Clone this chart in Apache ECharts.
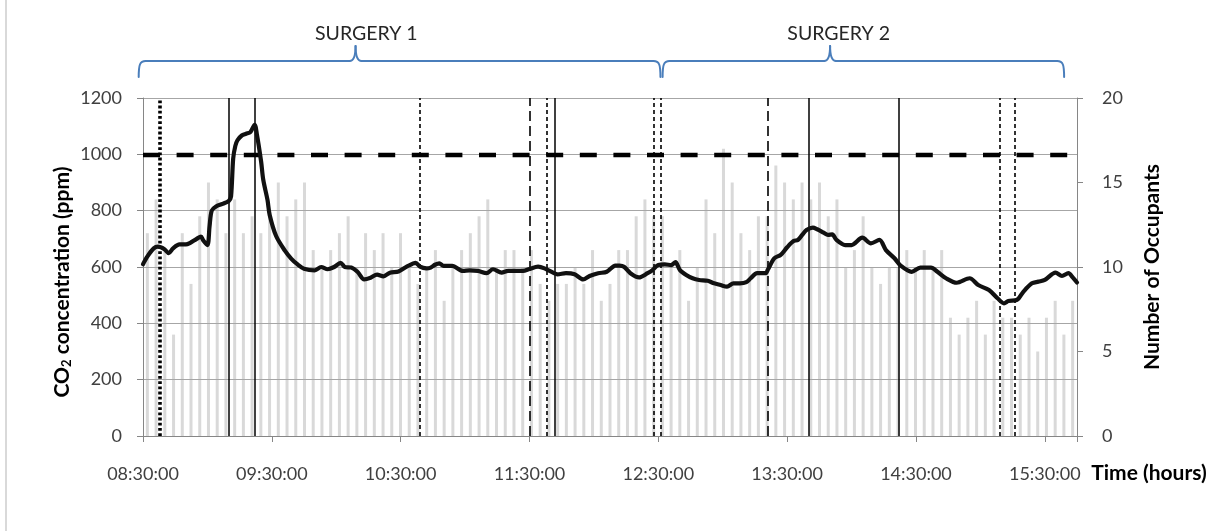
<!DOCTYPE html>
<html>
<head>
<meta charset="utf-8">
<script src="https://cdn.jsdelivr.net/npm/echarts@6/dist/echarts.min.js"></script>
<style>
  html, body { margin: 0; padding: 0; background: #fff; }
  #chart { width: 1220px; height: 531px; }
</style>
</head>
<body>
<div id="chart"></div>
<script>
// ---- time axis -------------------------------------------------------
const dayStart = '08:30';
const dayEnd = '15:45';
const timeTicks = ['08:30:00', '09:30:00', '10:30:00', '11:30:00',
                   '12:30:00', '13:30:00', '14:30:00', '15:30:00'];

// ---- CO2 concentration (ppm) ----------------------------------------
const co2Times = [
  '08:30','08:32','08:35','08:37','08:40','08:42','08:44','08:47','08:50','08:52',
  '08:55','08:57','08:58','09:00','09:01','09:02','09:04','09:07','09:10','09:11',
  '09:12','09:13','09:14','09:16','09:18','09:20','09:22','09:23','09:25','09:26',
  '09:28','09:29','09:32','09:36','09:39','09:42','09:45','09:50','09:53','09:56',
  '09:59','10:02','10:04','10:07','10:10','10:13','10:16','10:19','10:22','10:25',
  '10:29','10:33','10:37','10:39','10:42','10:44','10:46','10:48','10:50','10:54',
  '10:59','11:02','11:06','11:10','11:13','11:17','11:20','11:24','11:27','11:30',
  '11:34','11:37','11:41','11:43','11:47','11:51','11:55','11:58','12:02','12:06',
  '12:10','12:12','12:14','12:17','12:21','12:25','12:27','12:30','12:33','12:36',
  '12:38','12:40','12:43','12:46','12:49','12:53','12:56','12:59','13:02','13:05',
  '13:08','13:11','13:13','13:16','13:20','13:21','13:24','13:27','13:30','13:33',
  '13:35','13:37','13:39','13:42','13:44','13:47','13:49','13:51','13:53','13:57',
  '14:00','14:05','14:09','14:13','14:16','14:20','14:23','14:28','14:32','14:37',
  '14:40','14:44','14:49','14:55','14:59','15:04','15:08','15:11','15:13','15:17',
  '15:20','15:24','15:27','15:30','15:35','15:38','15:41','15:43','15:45'
];
const co2Values = [
  610, 637, 666, 672, 663, 649, 666, 680, 680, 686,
  700, 708, 695, 678, 745, 800, 815, 824, 835, 850,
  985, 1030, 1050, 1067, 1073, 1079, 1105, 1073, 975, 910,
  837, 785, 710, 659, 630, 609, 594, 588, 600, 592,
  600, 615, 600, 598, 582, 556, 562, 573, 567, 580,
  584, 602, 615, 601, 595, 598, 608, 613, 604, 604,
  586, 588, 586, 578, 592, 580, 586, 586, 586, 593,
  601, 595, 580, 574, 578, 574, 556, 568, 578, 583,
  605, 605, 601, 578, 563, 578, 587, 607, 609, 607,
  617, 590, 572, 560, 554, 551, 542, 536, 530, 542,
  542, 546, 560, 578, 578, 590, 631, 643, 670, 692,
  696, 714, 731, 740, 734, 722, 714, 716, 696, 678,
  678, 704, 684, 696, 660, 631, 604, 583, 598, 598,
  583, 560, 544, 560, 536, 518, 489, 471, 479, 483,
  512, 542, 548, 554, 580, 568, 578, 563, 545
];
const co2Limit = 1000;

// ---- number of occupants per interval -------------------------------
const occupants = [
  12, 14, 11, 6, 12, 9, 13, 15, 14, 12,
  14, 12, 13, 12, 13, 15, 13, 14, 15, 11,
  10, 11, 12, 13, 10, 12, 11, 12, 10, 12,
  10, 9, 10, 11, 8, 10, 11, 12, 13, 14,
  10, 11, 11, 10, 11, 9, 8, 9, 9, 10,
  9, 11, 8, 9, 11, 11, 13, 14, 13, 13,
  10, 11, 8, 10, 14, 12, 17, 15, 12, 11,
  13, 13, 16, 15, 14, 15, 14, 15, 13, 14,
  10, 11, 13, 10, 9, 10, 10, 11, 10, 11,
  10, 11, 7, 6, 7, 8, 6, 8, 7, 7,
  6, 7, 5, 7, 8, 6, 8
];
const intervals = occupants.map((_, i) => String(i + 1));

// ---- event markers ---------------------------------------------------
const dottedEvents = ['08:38'];
const solidEvents = ['09:10', '09:22', '11:42', '13:40', '14:22'];
const shortDashEvents = ['10:39', '11:38', '12:28', '12:31', '15:09', '15:16'];
const longDashEvents = ['11:30', '13:21'];

// ---- surgery periods (brace from start to end, peak at tip) ---------
const surgeryNames = ['SURGERY 1', 'SURGERY 2'];
const surgeryStart = ['08:28', '12:32'];
const surgeryEnd = ['12:31', '15:39'];
const surgeryTip = ['10:09', '13:50'];
const surgeryLabelAt = ['10:14', '13:54'];

// ---------------------------------------------------------------------
const toMin = t => {
  const [h, m] = t.split(':').map(Number);
  const [h0, m0] = dayStart.split(':').map(Number);
  return h * 60 + m - (h0 * 60 + m0);
};

const FONT = 'Lato';
const TICK_COLOR = '#404040';
const AXIS_COLOR = '#868686';
const GRID_COLOR = '#a6a6a6';
const LABEL_SIZE = 18;
const TITLE_SIZE = 21;

const vLine = (t, style) => ({ xAxis: toMin(t), lineStyle: style });
const eventLines = [].concat(
  dottedEvents.map(t => vLine(t, { color: '#000', width: 3.6, type: [2.8, 2.4] })),
  solidEvents.map(t => vLine(t, { color: '#000', width: 1.5, type: 'solid' })),
  shortDashEvents.map(t => vLine(t, { color: '#000', width: 1.6, type: [4, 3] })),
  longDashEvents.map(t => vLine(t, { color: '#000', width: 1.6, type: [10, 5] })),
  [{ yAxis: co2Limit, lineStyle: { color: '#000', width: 4.4, type: [17, 16.6] } }]
);

const chart = echarts.init(document.getElementById('chart'), null, { renderer: 'canvas' });

chart.setOption({
  animation: false,
  backgroundColor: '#fff',
  textStyle: { fontFamily: FONT },
  grid: { left: 143, right: 143, top: 98, height: 338 },
  xAxis: [
    {
      type: 'value',
      min: 0,
      max: toMin(dayEnd),
      interval: 60,
      axisLine: { lineStyle: { color: AXIS_COLOR, width: 1 } },
      axisTick: { show: true, length: 6, lineStyle: { color: AXIS_COLOR } },
      axisLabel: {
        fontFamily: FONT, fontSize: LABEL_SIZE, color: TICK_COLOR, margin: 29,
        formatter: v => (v % 60 === 0 ? (timeTicks[v / 60] || '') : '')
      },
      splitLine: { show: false },
      z: 3
    },
    {
      type: 'category',
      data: intervals,
      boundaryGap: true,
      show: false
    }
  ],
  yAxis: [
    {
      type: 'value',
      min: 0,
      max: 1200,
      interval: 200,
      axisLine: { show: true, lineStyle: { color: AXIS_COLOR, width: 1 } },
      axisTick: { show: true, length: 6, lineStyle: { color: AXIS_COLOR } },
      axisLabel: { fontFamily: FONT, fontSize: LABEL_SIZE, color: TICK_COLOR, margin: 21,
                   formatter: v => String(v) },
      splitLine: { show: true, lineStyle: { color: GRID_COLOR, width: 1 } },
      z: 3
    },
    {
      type: 'value',
      position: 'right',
      min: 0,
      max: 20,
      interval: 5,
      axisLine: { show: true, lineStyle: { color: AXIS_COLOR, width: 1 } },
      axisTick: { show: true, length: 6, lineStyle: { color: AXIS_COLOR } },
      axisLabel: { fontFamily: FONT, fontSize: LABEL_SIZE, color: TICK_COLOR, margin: 25,
                   formatter: v => String(v) },
      splitLine: { show: false },
      z: 3
    }
  ],
  series: [
    {
      name: 'Number of Occupants',
      type: 'bar',
      xAxisIndex: 1,
      yAxisIndex: 1,
      data: occupants,
      barWidth: 3,
      itemStyle: { color: '#d9d9d9' },
      z: 2,
      silent: true
    },
    {
      name: 'CO2 concentration',
      type: 'line',
      xAxisIndex: 0,
      yAxisIndex: 0,
      data: co2Times.map((t, i) => [toMin(t), co2Values[i]]),
      smooth: 0.3,
      symbol: 'none',
      lineStyle: { color: '#111', width: 4.2, cap: 'round', join: 'round' },
      z: 5,
      silent: true,
      markLine: {
        silent: true,
        symbol: 'none',
        label: { show: false },
        animation: false,
        data: eventLines
      }
    }
  ]
});

// ---- titles, braces and frame ---------------------------------------
const px = t => chart.convertToPixel({ xAxisIndex: 0 }, toMin(t));
const BRACE_Y = 61, BRACE_END_Y = 77, BRACE_TIP_Y = 46;
const BRACE_STYLE = { fill: 'none', stroke: '#4a7ebb', lineWidth: 2, lineCap: 'round' };

// one curly brace built from straight runs and bezier corners
const braceElements = (x1, x2, xm) => {
  const y = BRACE_Y;
  const seg = shape => ({ type: 'bezierCurve', silent: true, shape, style: BRACE_STYLE });
  const run = (a, b) => ({ type: 'line', silent: true, shape: { x1: a, y1: y, x2: b, y2: y }, style: BRACE_STYLE });
  return [
    seg({ x1: x1, y1: BRACE_END_Y, cpx1: x1, cpy1: y + 4, cpx2: x1 + 1, cpy2: y, x2: x1 + 7, y2: y }),
    run(x1 + 7, xm - 6),
    seg({ x1: xm - 6, y1: y, cpx1: xm, cpy1: y, x2: xm, y2: BRACE_TIP_Y }),
    seg({ x1: xm, y1: BRACE_TIP_Y, cpx1: xm, cpy1: y, x2: xm + 6, y2: y }),
    run(xm + 6, x2 - 7),
    seg({ x1: x2 - 7, y1: y, cpx1: x2 - 1, cpy1: y, cpx2: x2, cpy2: y + 4, x2: x2, y2: BRACE_END_Y })
  ];
};

let graphics = [
  {
    type: 'line', silent: true, z: -10,
    shape: { x1: 6, y1: 0, x2: 6, y2: 531 },
    style: { stroke: '#d9d9d9', lineWidth: 2 }
  },
  {
    type: 'text', silent: true,
    x: 62, y: 282, rotation: Math.PI / 2,
    style: {
      text: '{b|CO}{s|2}{b| concentration (ppm)}',
      align: 'center', verticalAlign: 'middle', fill: '#000',
      rich: {
        b: { fontFamily: FONT, fontSize: TITLE_SIZE, fontWeight: 'bold', fill: '#000' },
        s: { fontFamily: FONT, fontSize: 13, fontWeight: 'bold', fill: '#000', padding: [10, 0, 0, 0] }
      }
    }
  },
  {
    type: 'text', silent: true,
    x: 1152, y: 267, rotation: Math.PI / 2,
    style: {
      text: 'Number of Occupants', fontFamily: FONT, fontSize: TITLE_SIZE,
      fontWeight: 'bold', fill: '#000', align: 'center', verticalAlign: 'middle'
    }
  },
  {
    type: 'text', silent: true,
    x: 1149, y: 473,
    style: {
      text: 'Time (hours)', fontFamily: FONT, fontSize: TITLE_SIZE,
      fontWeight: 'bold', fill: '#000', align: 'center', verticalAlign: 'middle'
    }
  }
];

surgeryNames.forEach((name, i) => {
  graphics = graphics.concat(braceElements(px(surgeryStart[i]), px(surgeryEnd[i]), px(surgeryTip[i])));
  graphics.push({
    type: 'text', silent: true,
    x: px(surgeryLabelAt[i]), y: 34,
    style: {
      text: name, fontFamily: FONT, fontSize: 19.5, fill: '#262626',
      align: 'center', verticalAlign: 'middle'
    }
  });
});

chart.setOption({ graphic: graphics });
</script>
</body>
</html>
